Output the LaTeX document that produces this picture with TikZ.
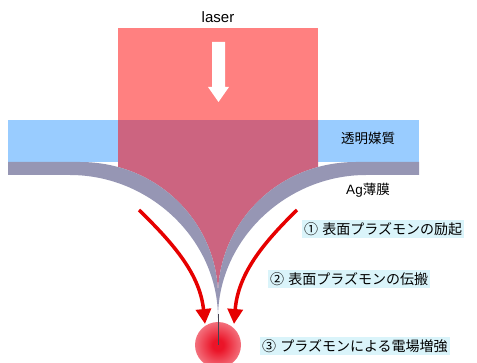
\documentclass[tikz,border=0pt]{standalone}
\usepackage{fontspec}
\setmainfont{Liberation Sans}
\newfontfamily\jpfont{Noto Sans CJK JP}
\usetikzlibrary{arrows.meta}

\definecolor{laserpink}{RGB}{255,128,128}
\definecolor{mediumblue}{RGB}{153,204,255}
\definecolor{beammauve}{RGB}{204,100,128}
\definecolor{filmgrey}{RGB}{150,150,180}
\definecolor{flowred}{RGB}{230,0,0}
\definecolor{tagcyan}{RGB}{218,244,250}
\definecolor{spotred}{RGB}{235,20,40}

\pgfdeclareradialshading{hotspot}{\pgfpoint{0bp}{0bp}}{%
  color(0bp)=(spotred); color(6bp)=(spotred);
  color(28bp)=(spotred!55!white); color(50bp)=(spotred!6!white)}

\begin{document}
\begin{tikzpicture}[x=1pt, y=-1pt,
  tag/.style={font=\jpfont\fontsize{14}{16}\selectfont, fill=tagcyan,
    inner xsep=2pt, inner ysep=2pt, anchor=west},
  side/.style={font=\fontsize{13.5}{15}\selectfont},
  flow/.style={draw=flowred, line width=3.5pt, -{Triangle[width=15pt,length=15pt]}}
]
\useasboundingbox (0,0) rectangle (477,363);

% transparent medium and the beam inside it
\fill[mediumblue] (8,120) rectangle (419,162);
\begin{scope}
  \clip (118,120) rectangle (318,400);
  \fill[beammauve] (8,120) -- (8,162) -- (80,162)
    .. controls (160,162) and (218,225) .. (218,296)
    .. controls (218,225) and (276,162) .. (356,162)
    -- (419,162) -- (419,120) -- cycle;
\end{scope}
\fill[laserpink] (118,28) rectangle (318,120);

% hot spot under the tip
\shade[shading=hotspot] (218,345) circle (23);

% Ag film
\fill[filmgrey] (8,162) -- (80,162)
  .. controls (160,162) and (218,225) .. (218,296)
  .. controls (218,225) and (276,162) .. (356,162)
  -- (419,162) -- (419,175) -- (366,175)
  .. controls (286,175) and (218,240) .. (218,318)
  .. controls (218,240) and (150,175) .. (70,175)
  -- (8,175) -- cycle;
\draw[line width=0.8pt, draw=black!55!filmgrey] (218,314) -- (218,345);

% incident light
\fill[white] (212,42) -- (225,42) -- (225,87) -- (229,87) -- (218.5,102)
  -- (208,87) -- (212,87) -- cycle;
\node (laser) at (218,17) {\fontsize{15}{17}\selectfont laser};

% plasmon flow
\coordinate (startL) at (139,210);
\coordinate (tipL) at (205,324);
\coordinate (startR) at (297,210);
\coordinate (tipR) at (234,324);
\draw[flow] (startL) .. controls (175,245) and (200,275) .. (tipL);
\draw[flow] (startR) .. controls (261,245) and (238,275) .. (tipR);

\node[side] (medium) at (368,138) {\jpfont 透明媒質};
\node[side] (film) at (368,190) {Ag\jpfont 薄膜};

\node[tag] (excite) at (302,229) {①\hspace{0.3em}表面プラズモンの励起};
\node[tag] (travel) at (268,279) {②\hspace{0.3em}表面プラズモンの伝搬};
\node[tag] (boost) at (260,346) {③\hspace{0.3em}プラズモンによる電場増強};
\end{tikzpicture}
\end{document}
